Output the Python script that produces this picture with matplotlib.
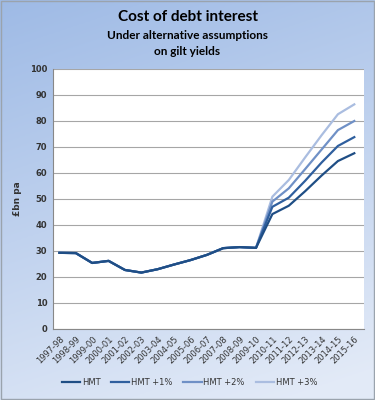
import matplotlib.pyplot as plt
import numpy as np

years = ['1997-98', '1998-99', '1999-00', '2000-01', '2001-02', '2002-03', '2003-04',
         '2004-05', '2005-06', '2006-07', '2007-08', '2008-09', '2009-10', '2010-11',
         '2011-12', '2012-13', '2013-14', '2014-15', '2015-16']

hist = [29.3, 29.2, 25.4, 26.2, 22.7, 21.7, 23.0, 24.8, 26.5, 28.5, 31.1, 31.5, 31.2]
hmt = hist + [44.2, 47.4, 53.0, 59.0, 64.6, 67.6]
hmt1 = hist + [47.0, 50.5, 57.0, 64.0, 70.4, 73.8]
hmt2 = hist + [49.0, 54.1, 61.5, 69.0, 76.5, 80.0]
hmt3 = hist + [50.9, 57.3, 66.0, 74.5, 82.6, 86.4]

names = ['HMT', 'HMT +1%', 'HMT +2%', 'HMT +3%']
colors = ['#1f4e85', '#2f5f9e', '#6f90c6', '#aabde0']

fig = plt.figure(figsize=(3.75, 4), dpi=100)

# gradient background
bg = fig.add_axes([0, 0, 1, 1], zorder=-10)
yy, xx = np.mgrid[0:1:200j, 0:1:200j]
t = np.clip(0.8 * yy + 0.25 * xx, 0, 1)
top = np.array([0.62, 0.73, 0.90])
bot = np.array([0.89, 0.92, 0.97])
img = top[None, None, :] * (1 - t[..., None]) + bot[None, None, :] * t[..., None]
bg.imshow(img, aspect='auto', extent=[0, 1, 0, 1])
bg.set_axis_off()
bg.add_patch(plt.Rectangle((0.002, 0.002), 0.995, 0.995, fill=False,
                           edgecolor='#9aa3ad', linewidth=1))

ax = fig.add_axes([0.141, 0.1775, 0.830, 0.650])
x = np.arange(len(years))
for i, (vals, name, c) in enumerate(zip([hmt, hmt1, hmt2, hmt3], names, colors)):
    ax.plot(x, vals, color=c, linewidth=1.6, label=name, zorder=10 - i)

ax.set_xlim(-0.4, len(years) - 0.4)
ax.set_ylim(0, 100)
ax.set_yticks(range(0, 101, 10))
ax.grid(axis='y', color='#a6a6a6', linewidth=0.8)
ax.set_axisbelow(True)
for s in ['top', 'right']:
    ax.spines[s].set_visible(False)
ax.spines['left'].set_color('#888888')
ax.spines['bottom'].set_color('#888888')
ax.tick_params(axis='both', length=0, labelsize=6, pad=4, labelcolor='#333333')
ax.set_xticks(x)
ax.set_xticklabels(years, rotation=45, ha='right', rotation_mode='anchor')
for lab in ax.get_yticklabels():
    lab.set_fontweight('bold')
ax.set_ylabel('£bn pa', fontsize=6.5, fontweight='bold', labelpad=6, color='#333333')

fig.text(0.5, 0.957, 'Cost of debt interest', ha='center', va='center',
         fontsize=11, fontweight='bold', family='Lato')
fig.text(0.5, 0.912, 'Under alternative assumptions', ha='center', va='center',
         fontsize=8.5, fontweight='bold', family='Lato')
fig.text(0.5, 0.872, 'on gilt yields', ha='center', va='center',
         fontsize=8.5, fontweight='bold', family='Lato')

leg = fig.legend(loc='center', bbox_to_anchor=(0.505, 0.043), ncol=4, frameon=False,
                 fontsize=6, handlelength=2.2, columnspacing=1.3, handletextpad=0.2)
for txt in leg.get_texts():
    txt.set_color('#333333')

fig.savefig('out.png', dpi=100)
